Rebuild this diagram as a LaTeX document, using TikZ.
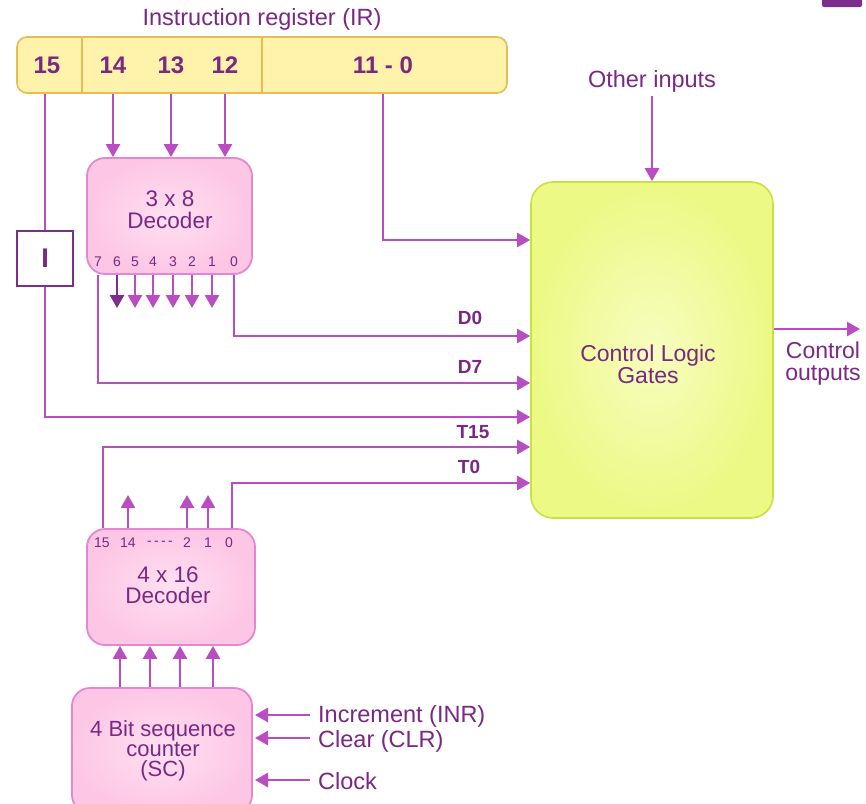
\documentclass[tikz,border=0pt]{standalone}
\usepackage{fontspec}
\setmainfont{Liberation Sans}
\usetikzlibrary{arrows.meta,calc}
\definecolor{wire}{RGB}{184,78,194}
\definecolor{ink}{RGB}{122,40,132}
\definecolor{dark}{RGB}{125,45,140}
\definecolor{pinkin}{RGB}{255,224,241}
\definecolor{pinkout}{RGB}{253,198,229}
\definecolor{pinkline}{RGB}{226,135,208}
\definecolor{irfill}{RGB}{255,242,170}
\definecolor{irline}{RGB}{232,188,84}
\definecolor{clgin}{RGB}{247,253,192}
\definecolor{clgout}{RGB}{236,249,132}
\definecolor{clgline}{RGB}{200,224,64}
\tikzset{
 wireline/.style={draw=wire, line width=2.7pt},
 arr/.style={wireline, -{Triangle[length=13pt,width=14pt]}},
 darr/.style={draw=dark, line width=2.7pt, -{Triangle[length=13pt,width=14pt]}},
 lbl/.style={text=ink, font=\fontsize{23.5}{21}\selectfont, inner sep=0pt, align=center},
 multi/.style={text=ink, font=\fontsize{22.5}{21.5}\selectfont, inner sep=0pt, align=center},
 bit/.style={text=ink, font=\bfseries\fontsize{24}{24}\selectfont, inner sep=0pt},
 sig/.style={text=ink, font=\bfseries\fontsize{19}{19}\selectfont, inner sep=0pt},
 pin/.style={text=ink, font=\fontsize{14}{14}\selectfont, inner sep=0pt},
 decbox/.style={draw=pinkline, line width=1.8pt, inner color=pinkin, outer color=pinkout, rounded corners=18pt, inner sep=0pt},
}
\begin{document}
\begin{tikzpicture}[x=1pt,y=-1pt]
\useasboundingbox (0,0) rectangle (866,803);
\fill[white] (0,0) rectangle (866,803);
% corner icon
\fill[dark, rounded corners=2pt] (822,-6) rectangle (862,7);

% instruction register
\node[lbl] (title) at (262,19) {Instruction register (IR)};
\node[draw=irline, line width=1.6pt, fill=irfill, rounded corners=10pt, minimum width=490pt, minimum height=56pt, inner sep=0pt] (ir) at (262,65) {};
\coordinate (dv1) at (82,0);
\coordinate (dv2) at (262,0);
\draw[irline, line width=1.6pt] (ir.north -| dv1) -- (ir.south -| dv1) (ir.north -| dv2) -- (ir.south -| dv2);
\node[bit] (b15) at (47,65) {15};
\node[bit] (b14) at (113,65) {14};
\node[bit] (b13) at (171,65) {13};
\node[bit] (b12) at (225,65) {12};
\node[bit] (b110) at (383,65) {11 - 0};

% y levels
\coordinate (y110) at (0,240);
\coordinate (yD0) at (0,336);
\coordinate (yD7) at (0,383);
\coordinate (yI) at (0,417);
\coordinate (yT15) at (0,447);
\coordinate (yT0) at (0,483);
\coordinate (yOut) at (0,329);

% 3x8 decoder
\node[decbox, minimum width=165pt, minimum height=116pt] (dec3) at (169.5,216) {};
\node[multi] (dec3t) at (170,210) {3 x 8\\Decoder};
\node[pin] (p7) at (98,262) {7};
\node[pin] (p6) at (117,262) {6};
\node[pin] (p5) at (135,262) {5};
\node[pin] (p4) at (153,262) {4};
\node[pin] (p3) at (173,262) {3};
\node[pin] (p2) at (192,262) {2};
\node[pin] (p1) at (212,262) {1};
\node[pin] (p0) at (234,262) {0};
\draw[arr] (b14 |- ir.south) -- (b14 |- dec3.north);
\draw[arr] (b13 |- ir.south) -- (b13 |- dec3.north);
\draw[arr] (b12 |- ir.south) -- (b12 |- dec3.north);

\coordinate (o6) at (117,308);
\draw[darr] (p6 |- dec3.south) -- (o6);
\foreach \p in {p5,p4,p3,p2,p1}{
  \draw[arr] (\p |- dec3.south) -- (\p |- o6);
}

% I flip-flop
\node[draw=dark, line width=2.4pt, fill=white, minimum width=56pt, minimum height=55pt, inner sep=0pt, text=ink, font=\bfseries\fontsize{27}{27}\selectfont] (ibox) at (45,258.5) {I};
\draw[wireline] (ibox.north |- ir.south) -- (ibox.north);

% control logic gates
\node[draw=clgline, line width=1.6pt, inner color=clgin, outer color=clgout, rounded corners=22pt, minimum width=242pt, minimum height=336pt, inner sep=0pt] (clg) at (652,350) {};
\node[multi, font=\fontsize{23}{22}\selectfont] (clgt) at (648,364) {Control Logic\\Gates};

\node[lbl] (oth) at (652,81) {Other inputs};
\coordinate (othb) at (652,96);
\draw[arr] (othb) -- (clg.north);

\draw[arr] (b110 |- ir.south) |- (clg.west |- y110);
\draw[arr] (p0 |- dec3.south) |- (clg.west |- yD0);
\draw[arr] (p7 |- dec3.south) |- (clg.west |- yD7);
\draw[arr] (ibox.south) |- (clg.west |- yI);

\node[sig] (lD0) at (470,318) {D0};
\node[sig] (lD7) at (470,367) {D7};
\node[sig] (lT15) at (473,432) {T15};
\node[sig] (lT0) at (469,467) {T0};

\coordinate (cout) at (860,329);
\draw[arr] (clg.east |- yOut) -- (cout);
\node[multi, font=\fontsize{23}{22}\selectfont] (couts) at (823,364) {Control\\outputs};

% 4x16 decoder
\node[decbox, minimum width=168pt, minimum height=116pt] (dec4) at (171,587) {};
\node[multi] (dec4t) at (168,585) {4 x 16\\Decoder};
\node[pin] (q15) at (102,543) {15};
\node[pin] (q14) at (128,543) {14};
\node[pin] (qd) at (160,543) {-\,-\,-\,-};
\node[pin] (q2) at (187,543) {2};
\node[pin] (q1) at (208,543) {1};
\node[pin] (q0) at (229,543) {0};
\coordinate (t15x) at (103,0);
\coordinate (t0x) at (232,0);
\draw[arr] (dec4.north -| t15x) |- (clg.west |- yT15);
\draw[arr] (dec4.north -| t0x) |- (clg.west |- yT0);
\coordinate (up) at (0,495);
\draw[arr] (q14 |- dec4.north) -- (q14 |- up);
\draw[arr] (q2 |- dec4.north) -- (q2 |- up);
\draw[arr] (q1 |- dec4.north) -- (q1 |- up);

% sequence counter
\node[decbox, minimum width=180pt, minimum height=125pt] (sc) at (162,750.5) {};
\node[multi, font=\fontsize{22}{20}\selectfont] (sct) at (163,751) {4 Bit sequence\\counter\\(SC)};
\foreach \x/\n in {120/c1,150/c2,180/c3,213/c4}{
  \coordinate (\n) at (\x,0);
  \draw[arr] (sc.north -| \n) -- (dec4.south -| \n);
}

\node[lbl, anchor=west] (inr) at (318,716) {Increment (INR)};
\node[lbl, anchor=west] (clr) at (318,741) {Clear (CLR)};
\node[lbl, anchor=west] (clk) at (318,781) {Clock};
\coordinate (y1) at (0,715);
\coordinate (y2) at (0,738);
\coordinate (y3) at (0,780);
\coordinate (sx) at (310,0);
\coordinate (ex) at (255,0);
\draw[arr] (sx |- y1) -- (ex |- y1);
\draw[arr] (sx |- y2) -- (ex |- y2);
\draw[arr] (sx |- y3) -- (ex |- y3);
\end{tikzpicture}
\end{document}
